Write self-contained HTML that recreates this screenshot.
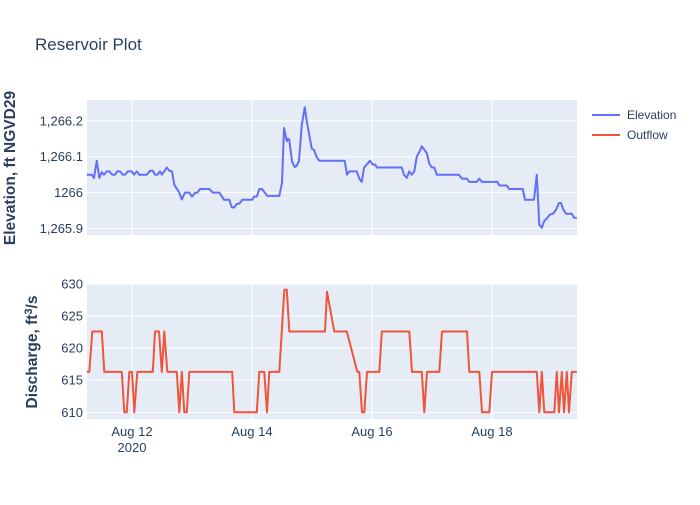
<!DOCTYPE html>
<html><head><meta charset="utf-8"><style>
body{margin:0;background:#fff;font-family:"Liberation Sans",Arial,sans-serif}
svg text{font-family:"Liberation Sans",Arial,sans-serif}
</style></head><body>
<svg id="chart" width="700" height="500" xmlns="http://www.w3.org/2000/svg">
<rect width="700" height="500" fill="#fff"/>
<text x="35" y="50" font-size="17" fill="#2a3f5f">Reservoir Plot</text>
<rect x="87" y="100" width="490" height="135" fill="#e5ecf6"/>
<rect x="87" y="284" width="490" height="135" fill="#e5ecf6"/>
<g id="grid"></g>
<g id="marks"></g>
<g id="ticks" font-size="13" fill="#2a3f5f"></g>
<text transform="translate(15,168) rotate(-90)" text-anchor="middle" font-size="15.5" font-weight="bold" fill="#2a3f5f">Elevation, ft NGVD29</text>
<text transform="translate(37,352) rotate(-90)" text-anchor="middle" font-size="15.5" font-weight="bold" fill="#2a3f5f">Discharge, ft<tspan dy="-5" font-size="11">3</tspan><tspan dy="5">/s</tspan></text>
<g>
<g><line x1="592" y1="115" x2="620" y2="115" stroke="#636efa" stroke-width="2"/><text x="627" y="119" font-size="12" fill="#2a3f5f">Elevation</text></g>
<g><line x1="592" y1="135" x2="620" y2="135" stroke="#ef553b" stroke-width="2"/><text x="627" y="139" font-size="12" fill="#2a3f5f">Outflow</text></g>
</g>
</svg>
<script>
// hours since 2020-08-11 00:00
const elevHours=[5.9,7.9,8.8,9.9,10.9,11.9,12.8,13.9,14.9,16.1,17.2,18.1,19.2,20.3,21.2,22.3,23.9,24.8,25.9,26.9,29.9,31.2,32.3,33.2,34.1,35.2,36,37.9,38.9,40,40.9,41.9,42.8,43.9,45.2,46.9,48,49.2,50.1,51.2,54.9,56.3,58.9,60.8,62.9,63.9,64.9,65.9,66.9,68.1,72.1,72.8,73.9,74.9,76,78.1,82.9,84,84.8,85.9,86.4,86.9,88,89.1,89.9,90.8,91.9,93.1,93.9,95.9,96.8,97.9,98.9,109.1,110,110.9,113.9,114.9,115.9,116.8,119.2,120.3,121.3,121.9,131.9,132.8,133.9,134.9,135.9,136.9,137.9,138.9,139.9,141.9,142.9,143.9,144.9,145.9,154.8,155.9,157.9,158.9,161.9,162.9,163.9,170.1,170.9,173.9,174.8,180.3,181.2,184.8,185.9,186.9,187.9,188.8,189.9,191.2,192.3,193.2,193.9,194.8,195.6,196.5,197.6,199.9,200.8,201.9];
const elevValues=[1266.050,1266.050,1266.041,1266.089,1266.041,1266.057,1266.050,1266.059,1266.059,1266.050,1266.050,1266.059,1266.059,1266.050,1266.050,1266.059,1266.059,1266.050,1266.059,1266.050,1266.050,1266.061,1266.061,1266.050,1266.050,1266.059,1266.050,1266.070,1266.061,1266.059,1266.022,1266.011,1266.002,1265.981,1266.000,1266.000,1265.989,1265.999,1266.000,1266.010,1266.010,1266.000,1266.000,1265.980,1265.980,1265.959,1265.959,1265.969,1265.969,1265.980,1265.980,1265.989,1265.989,1266.010,1266.010,1265.991,1265.991,1266.027,1266.180,1266.143,1266.150,1266.147,1266.087,1266.071,1266.075,1266.089,1266.189,1266.238,1266.198,1266.122,1266.119,1266.098,1266.089,1266.089,1266.050,1266.059,1266.059,1266.039,1266.030,1266.069,1266.089,1266.078,1266.078,1266.070,1266.070,1266.050,1266.041,1266.059,1266.050,1266.059,1266.101,1266.113,1266.129,1266.110,1266.081,1266.070,1266.070,1266.050,1266.050,1266.039,1266.039,1266.030,1266.030,1266.039,1266.030,1266.030,1266.020,1266.020,1266.010,1266.010,1265.980,1265.980,1266.050,1265.911,1265.902,1265.920,1265.928,1265.939,1265.941,1265.948,1265.957,1265.971,1265.971,1265.953,1265.941,1265.941,1265.930,1265.930];
const flowHours=[5.9,6.9,8.1,11.9,12.9,19.9,20.9,21.9,22.9,24,24.9,26.1,32.3,33.2,34.8,35.9,36.9,38.1,41.9,42.9,43.9,44.9,45.9,46.9,64.1,64.9,73.9,74.9,76.9,78,78.9,82.9,84.9,85.9,86.9,101.2,102,104.9,109.9,114.1,114.9,116,116.9,118,122.9,123.9,134.9,136,139.9,140.9,142,146.9,148,158,158.9,162.9,164,166.9,168,185.9,186.9,187.9,188.9,192.9,193.9,194.8,195.9,196.8,197.9,198.8,199.9,201.9];
const flowValues=[616.3,616.3,622.6,622.6,616.3,616.3,610,610,616.3,616.3,610,616.3,616.3,622.6,622.6,616.3,622.6,616.3,616.3,610,616.3,610,610,616.3,616.3,610,610,616.3,616.3,610,616.3,616.3,629.1,629.1,622.6,622.6,628.8,622.6,622.6,616.3,616.3,610,610,616.3,616.3,622.6,622.6,616.3,616.3,610,616.3,616.3,622.6,622.6,616.3,616.3,610,610,616.3,616.3,610,616.3,610,610,616.3,610,616.3,610,616.3,610,616.3,616.3];
const xTickHours=[24,72,120,168];
const xTickLabels=["Aug 12","Aug 14","Aug 16","Aug 18"];
const elevTicks=[1265.9,1266.0,1266.1,1266.2];
const elevTickLabels=["1,265.9","1266","1,266.1","1,266.2"];
const flowTicks=[610,615,620,625,630];

const X0=87,X1=577,H0=6,H1=202;
const xs=h=>X0+(h-H0)/(H1-H0)*(X1-X0);
const yE=v=>235-(v-1265.882)/(1266.258-1265.882)*135;
const yF=v=>419-(v-608.96)/(630-608.96)*135;
const NS="http://www.w3.org/2000/svg";
function mk(tag,attrs,parent){const e=document.createElementNS(NS,tag);for(const k in attrs)e.setAttribute(k,attrs[k]);parent.appendChild(e);return e;}
const grid=document.getElementById('grid'),marks=document.getElementById('marks'),ticks=document.getElementById('ticks');
xTickHours.forEach((h,i)=>{
  const x=xs(h);
  let l=mk('line',{x1:x,x2:x,y1:100,y2:235,stroke:'#fff','stroke-width':1},grid);
  
  
  l=mk('line',{x1:x,x2:x,y1:284,y2:419,stroke:'#fff','stroke-width':1},grid);
  
  
  const t=mk('text',{x:x,y:436,'text-anchor':'middle'},ticks);
  t.textContent=xTickLabels[i];
  
  
  if(i===0){const t2=mk('text',{x:x,y:452,'text-anchor':'middle'},ticks);t2.textContent='2020';
    
    }
});
elevTicks.forEach((v,i)=>{
  const y=yE(v);
  const l=mk('line',{x1:87,x2:577,y1:y,y2:y,stroke:'#fff','stroke-width':1},grid);
  
  
  const t=mk('text',{x:83,y:y+4.5,'text-anchor':'end'},ticks);t.textContent=elevTickLabels[i];
  
  
});
flowTicks.forEach(v=>{
  const y=yF(v);
  const l=mk('line',{x1:87,x2:577,y1:y,y2:y,stroke:'#fff','stroke-width':1},grid);
  
  
  const t=mk('text',{x:83,y:y+4.5,'text-anchor':'end'},ticks);t.textContent=String(v);
  
  
});
const pe=mk('polyline',{points:elevHours.map((h,i)=>xs(h).toFixed(1)+','+yE(elevValues[i]).toFixed(1)).join(' '),fill:'none',stroke:'#636efa','stroke-width':2,'stroke-linejoin':'round'},marks);


const pf=mk('polyline',{points:flowHours.map((h,i)=>xs(h).toFixed(1)+','+yF(flowValues[i]).toFixed(1)).join(' '),fill:'none',stroke:'#ef553b','stroke-width':2,'stroke-linejoin':'round'},marks);


</script>
</body></html>
